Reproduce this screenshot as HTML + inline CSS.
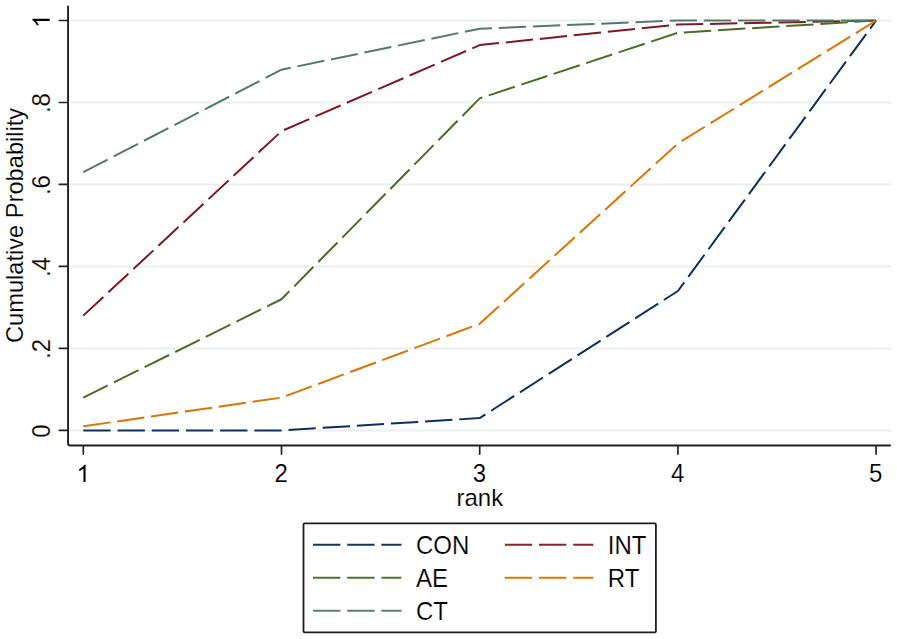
<!DOCTYPE html>
<html><head><meta charset="utf-8"><style>
html,body{margin:0;padding:0;background:#fff;}
body{width:897px;height:639px;overflow:hidden;}
svg{display:block;}
text{font-family:"Liberation Sans",sans-serif;fill:#000;stroke:#fff;stroke-width:0.15px;}
</style></head><body>
<svg width="897" height="639" viewBox="0 0 897 639">
<rect width="897" height="639" fill="#fff"/>
<line x1="71" y1="430.40" x2="891" y2="430.40" stroke="#e8eff1" stroke-width="2"/>
<line x1="71" y1="348.42" x2="891" y2="348.42" stroke="#e8eff1" stroke-width="2"/>
<line x1="71" y1="266.44" x2="891" y2="266.44" stroke="#e8eff1" stroke-width="2"/>
<line x1="71" y1="184.46" x2="891" y2="184.46" stroke="#e8eff1" stroke-width="2"/>
<line x1="71" y1="102.48" x2="891" y2="102.48" stroke="#e8eff1" stroke-width="2"/>
<line x1="71" y1="20.50" x2="891" y2="20.50" stroke="#e8eff1" stroke-width="2"/>
<polyline points="83.30,430.40 281.50,430.40 479.70,418.10 677.90,291.03 876.10,20.50" fill="none" stroke="#fff" stroke-width="4.4" stroke-dasharray="25.6 8.6" stroke-dashoffset="-0.9" stroke-linecap="round" stroke-linejoin="round"/>
<polyline points="83.30,315.63 281.50,131.17 479.70,45.09 677.90,24.60 876.10,20.50" fill="none" stroke="#fff" stroke-width="4.4" stroke-dasharray="25.6 8.6" stroke-dashoffset="-0.9" stroke-linecap="round" stroke-linejoin="round"/>
<polyline points="83.30,397.61 281.50,299.23 479.70,98.38 677.90,32.80 876.10,20.50" fill="none" stroke="#fff" stroke-width="4.4" stroke-dasharray="25.6 8.6" stroke-dashoffset="-0.9" stroke-linecap="round" stroke-linejoin="round"/>
<polyline points="83.30,426.30 281.50,397.61 479.70,323.83 677.90,143.47 876.10,20.50" fill="none" stroke="#fff" stroke-width="4.4" stroke-dasharray="25.6 8.6" stroke-dashoffset="-0.9" stroke-linecap="round" stroke-linejoin="round"/>
<polyline points="83.30,172.16 281.50,69.69 479.70,28.70 677.90,20.50 876.10,20.50" fill="none" stroke="#fff" stroke-width="4.4" stroke-dasharray="25.6 8.6" stroke-dashoffset="-0.9" stroke-linecap="round" stroke-linejoin="round"/>
<polyline points="83.30,430.40 281.50,430.40 479.70,418.10 677.90,291.03 876.10,20.50" fill="none" stroke="#0c2f5c" stroke-width="2" stroke-dasharray="27.4 6.8" stroke-linejoin="round"/>
<polyline points="83.30,315.63 281.50,131.17 479.70,45.09 677.90,24.60 876.10,20.50" fill="none" stroke="#7f1824" stroke-width="2" stroke-dasharray="27.4 6.8" stroke-linejoin="round"/>
<polyline points="83.30,397.61 281.50,299.23 479.70,98.38 677.90,32.80 876.10,20.50" fill="none" stroke="#4a6c25" stroke-width="2" stroke-dasharray="27.4 6.8" stroke-linejoin="round"/>
<polyline points="83.30,426.30 281.50,397.61 479.70,323.83 677.90,143.47 876.10,20.50" fill="none" stroke="#de7300" stroke-width="2" stroke-dasharray="27.4 6.8" stroke-linejoin="round"/>
<polyline points="83.30,172.16 281.50,69.69 479.70,28.70 677.90,20.50 876.10,20.50" fill="none" stroke="#517a69" stroke-width="2" stroke-dasharray="27.4 6.8" stroke-linejoin="round"/>
<path d="M68.05,6.4V443.45Q68.05,445.45 70.05,445.45H890.1" fill="none" stroke="#202020" stroke-width="1.9" stroke-linejoin="round" stroke-linecap="round"/>
<line x1="59.4" y1="430.40" x2="68" y2="430.40" stroke="#202020" stroke-width="1.7" stroke-linecap="round"/>
<text transform="translate(49.70,431.00) rotate(-90) scale(1,1.045)" text-anchor="middle" font-size="24">0</text>
<line x1="59.4" y1="348.42" x2="68" y2="348.42" stroke="#202020" stroke-width="1.7" stroke-linecap="round"/>
<text transform="translate(49.70,349.02) rotate(-90) scale(1,1.045)" text-anchor="middle" font-size="24">.2</text>
<line x1="59.4" y1="266.44" x2="68" y2="266.44" stroke="#202020" stroke-width="1.7" stroke-linecap="round"/>
<text transform="translate(49.70,267.04) rotate(-90) scale(1,1.045)" text-anchor="middle" font-size="24">.4</text>
<line x1="59.4" y1="184.46" x2="68" y2="184.46" stroke="#202020" stroke-width="1.7" stroke-linecap="round"/>
<text transform="translate(49.70,185.06) rotate(-90) scale(1,1.045)" text-anchor="middle" font-size="24">.6</text>
<line x1="59.4" y1="102.48" x2="68" y2="102.48" stroke="#202020" stroke-width="1.7" stroke-linecap="round"/>
<text transform="translate(49.70,103.08) rotate(-90) scale(1,1.045)" text-anchor="middle" font-size="24">.8</text>
<line x1="59.4" y1="20.50" x2="68" y2="20.50" stroke="#202020" stroke-width="1.7" stroke-linecap="round"/>
<path transform="translate(49.70,21.10) rotate(-90) scale(0.011719,-0.011719) translate(-569.5,0)" d="M763 0H583V1147Q518 1085 412.5 1023Q307 961 223 930V1104Q374 1175 487 1276Q600 1377 647 1472H763V0Z" fill="#000"/>
<line x1="83.30" y1="446" x2="83.30" y2="454.1" stroke="#202020" stroke-width="1.7" stroke-linecap="round"/>
<path transform="translate(83.30,482.00) scale(0.011719,-0.011719) translate(-569.5,0)" d="M763 0H583V1147Q518 1085 412.5 1023Q307 961 223 930V1104Q374 1175 487 1276Q600 1377 647 1472H763V0Z" fill="#000"/>
<line x1="281.50" y1="446" x2="281.50" y2="454.1" stroke="#202020" stroke-width="1.7" stroke-linecap="round"/>
<text transform="translate(281.20,482.00) scale(1,1.045)" text-anchor="middle" font-size="24">2</text>
<line x1="479.70" y1="446" x2="479.70" y2="454.1" stroke="#202020" stroke-width="1.7" stroke-linecap="round"/>
<text transform="translate(479.40,482.00) scale(1,1.045)" text-anchor="middle" font-size="24">3</text>
<line x1="677.90" y1="446" x2="677.90" y2="454.1" stroke="#202020" stroke-width="1.7" stroke-linecap="round"/>
<text transform="translate(677.60,482.00) scale(1,1.045)" text-anchor="middle" font-size="24">4</text>
<line x1="876.10" y1="446" x2="876.10" y2="454.1" stroke="#202020" stroke-width="1.7" stroke-linecap="round"/>
<text transform="translate(875.80,482.00) scale(1,1.045)" text-anchor="middle" font-size="24">5</text>
<text transform="translate(23.30,225.40) rotate(-90) scale(1,0.995)" text-anchor="middle" font-size="23.65">Cumulative Probability</text>
<text transform="translate(479.80,505.70) scale(1,0.99)" text-anchor="middle" font-size="24">rank</text>
<rect x="303.5" y="523.35" width="352.4" height="109.05" rx="1.2" ry="1.2" fill="none" stroke="#1c1c1c" stroke-width="1.8"/>
<line x1="313" y1="544.75" x2="401.5" y2="544.75" stroke="#113863" stroke-width="2" stroke-dasharray="27.4 6.8"/>
<text transform="translate(416.00,553.70) scale(1,1.045)" text-anchor="start" font-size="24">CON</text>
<line x1="504.8" y1="544.75" x2="593.3" y2="544.75" stroke="#88242e" stroke-width="2" stroke-dasharray="27.4 6.8"/>
<text transform="translate(607.80,553.70) scale(1,1.045)" text-anchor="start" font-size="24">INT</text>
<line x1="313" y1="577.80" x2="401.5" y2="577.80" stroke="#52732d" stroke-width="2" stroke-dasharray="27.4 6.8"/>
<text transform="translate(416.00,586.80) scale(1,1.045)" text-anchor="start" font-size="24">AE</text>
<line x1="504.8" y1="577.80" x2="593.3" y2="577.80" stroke="#e17800" stroke-width="2" stroke-dasharray="27.4 6.8"/>
<text transform="translate(607.80,586.80) scale(1,1.045)" text-anchor="start" font-size="24">RT</text>
<line x1="313" y1="610.85" x2="401.5" y2="610.85" stroke="#5a8070" stroke-width="2" stroke-dasharray="27.4 6.8"/>
<text transform="translate(416.00,619.90) scale(1,1.045)" text-anchor="start" font-size="24">CT</text>
</svg>
</body></html>
